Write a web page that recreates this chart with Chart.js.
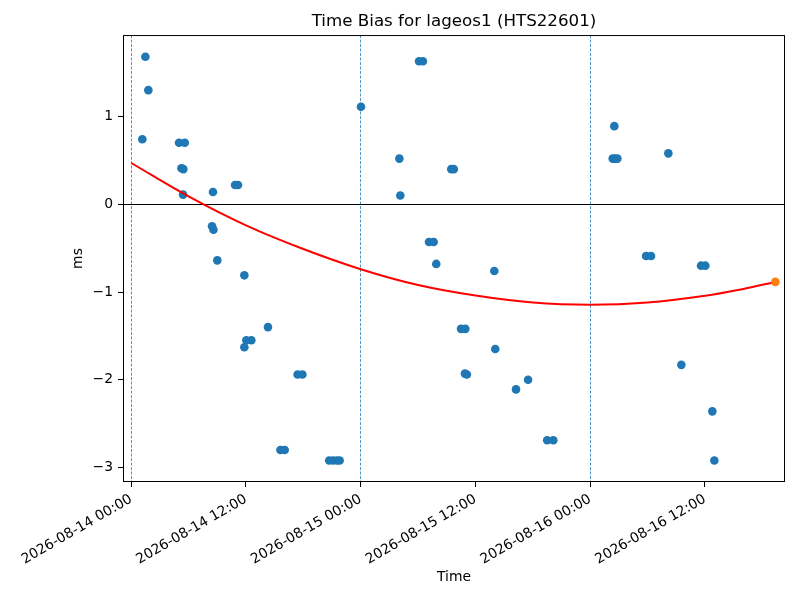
<!DOCTYPE html>
<html>
<head>
<meta charset="utf-8">
<title>Time Bias for lageos1 (HTS22601)</title>
<script src="https://cdn.jsdelivr.net/npm/chart.js@4.4.1/dist/chart.umd.min.js"></script>
<style>
  html, body { margin: 0; padding: 0; background: #fff; }
  canvas { display: block; }
</style>
</head>
<body>
<canvas id="biasChart" width="800" height="600"></canvas>
<script>
// x values are hours after 2026-08-14 00:00
const biasHours = [1.16, 1.48, 1.79, 5.0, 5.6, 5.25, 5.45, 5.42, 8.45, 8.6, 8.55, 9.0,
    10.86, 11.17, 11.83, 11.83, 12.04, 12.56, 14.3, 15.6, 16.05, 17.4, 17.9,
    20.7, 21.1, 21.5, 21.8, 24.03, 28.04, 28.14, 30.1, 30.5, 31.14, 31.63, 31.9,
    33.47, 33.73, 34.49, 34.94, 34.9, 35.1, 37.97, 38.07, 40.24, 41.5, 43.5, 44.14,
    50.35, 50.6, 50.84, 50.52, 53.84, 54.36, 56.17, 57.53, 59.59, 60.04, 60.77, 60.98];
const biasMs = [0.74, 1.68, 1.30, 0.70, 0.70, 0.41, 0.40, 0.11, -0.25, -0.29, 0.14, -0.64,
    0.22, 0.22, -0.81, -1.63, -1.55, -1.55, -1.40, -2.80, -2.80, -1.94, -1.94,
    -2.92, -2.92, -2.92, -2.92, 1.11, 0.52, 0.10, 1.63, 1.63, -0.43, -0.43, -0.68,
    0.40, 0.40, -1.42, -1.42, -1.93, -1.94, -0.76, -1.65, -2.11, -2.00, -2.69, -2.69,
    0.52, 0.52, 0.52, 0.89, -0.59, -0.59, 0.58, -1.83, -0.70, -0.70, -2.36, -2.92];

// fitted curve
const fitHours = [0, 6, 12, 18, 24, 30, 36, 42, 48, 54, 60, 64, 67.36];
const fitMs = [0.47, 0.09, -0.24, -0.51, -0.74, -0.92, -1.04, -1.12, -1.145, -1.12, -1.044, -0.966, -0.885];

const predictHours = [67.36];
const predictMs = [-0.885];

const tickHours = [0, 12, 24, 36, 48, 60];
const tickLabels = ['2026-08-14 00:00', '2026-08-14 12:00', '2026-08-15 00:00',
    '2026-08-15 12:00', '2026-08-16 00:00', '2026-08-16 12:00'];
const dayLines = [0, 24, 48];
const yTicks = [-3, -2, -1, 0, 1];

const toPoints = (xs, ys) => xs.map((x, i) => ({ x: x, y: ys[i] }));

// box round the plot area, like a matplotlib frame
const framePlugin = {
    id: 'frame',
    afterDatasetsDraw(chart) {
        const { ctx, chartArea: a } = chart;
        ctx.save();
        ctx.strokeStyle = '#000';
        ctx.lineWidth = 1;
        ctx.strokeRect(a.left + 0.5, a.top + 0.5, a.right - a.left - 1, a.bottom - a.top - 1);
        ctx.restore();
    }
};

Chart.defaults.font.family = '"DejaVu Sans", sans-serif';
Chart.defaults.font.size = 13.9;
Chart.defaults.color = '#000';

new Chart(document.getElementById('biasChart').getContext('2d'), {
    type: 'scatter',
    data: {
        datasets: [{
            data: toPoints(predictHours, predictMs),
            backgroundColor: '#ff7f0e',
            borderWidth: 0,
            pointRadius: 4.3,
            order: 0
        }, {
            type: 'line',
            data: toPoints(fitHours, fitMs),
            borderColor: '#ff0000',
            borderWidth: 2,
            pointRadius: 0,
            tension: 0.4,
            fill: false,
            order: 1
        }, {
            data: toPoints(biasHours, biasMs),
            backgroundColor: '#1f77b4',
            borderWidth: 0,
            pointRadius: 4.3,
            order: 2
        }]
    },
    options: {
        responsive: false,
        animation: false,
        devicePixelRatio: 1,
        layout: { padding: { top: 0, right: 15, bottom: 0, left: 0 } },
        plugins: {
            legend: { display: false },
            tooltip: { enabled: false },
            title: {
                display: true,
                fullSize: false,
                text: 'Time Bias for lageos1 (HTS22601)',
                font: { size: 16.7, weight: 'normal' },
                padding: { top: 12, bottom: 3 }
            }
        },
        scales: {
            x: {
                type: 'linear',
                min: -0.86,
                max: 68.37,
                afterBuildTicks: (scale) => { scale.ticks = tickHours.map(v => ({ value: v })); },
                afterFit: (scale) => { scale.height = 118; },
                ticks: {
                    minRotation: 30,
                    maxRotation: 30,
                    padding: 4,
                    autoSkip: false,
                    callback: (value, index) => tickLabels[index]
                },
                grid: {
                    color: (c) => dayLines.includes(c.tick && c.tick.value) ? '#1f77b4' : 'rgba(0,0,0,0)',
                    lineWidth: 0.8,
                    tickColor: '#000',
                    tickLength: 5,
                    tickWidth: 1
                },
                border: { display: false, dash: [3, 1.5] },
                title: { display: true, text: 'Time', padding: { top: 0, bottom: 14.7 } }
            },
            y: {
                min: -3.165,
                max: 1.928,
                afterBuildTicks: (scale) => { scale.ticks = yTicks.map(v => ({ value: v })); },
                afterFit: (scale) => { scale.width = 123; },
                ticks: {
                    padding: 5,
                    callback: (value) => String(value).replace('-', '\u2212')
                },
                grid: {
                    color: (c) => (c.tick && c.tick.value === 0) ? '#000' : 'rgba(0,0,0,0)',
                    lineWidth: 1,
                    tickColor: '#000',
                    tickLength: 5,
                    tickWidth: 1
                },
                border: { display: false },
                title: { display: true, text: 'ms', padding: { top: 69.7, bottom: 0 } }
            }
        }
    },
    plugins: [framePlugin]
});
</script>
</body>
</html>
